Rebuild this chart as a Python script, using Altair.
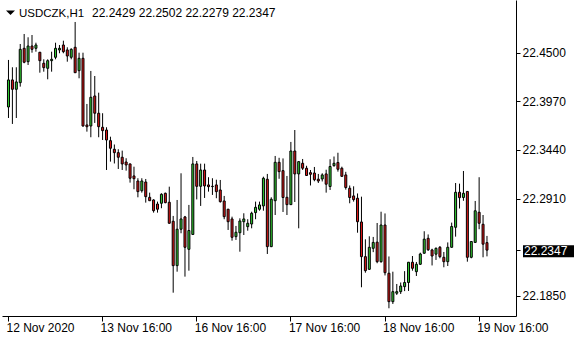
import altair as alt
import pandas as pd

# ---- data (USDCZK, H1) ----
opens = [22.3908, 22.4203, 22.4101, 22.4173, 22.4548, 22.4402, 22.4573, 22.4548, 22.4505, 22.4385,
         22.4330, 22.4413, 22.4450, 22.4530, 22.4584, 22.4530, 22.4450, 22.4559, 22.4304, 22.4439,
         22.3712, 22.3701, 22.4028, 22.3840, 22.3687, 22.3657, 22.3541, 22.3447, 22.3410, 22.3360,
         22.3308, 22.3287, 22.3156, 22.3101, 22.2995, 22.3090, 22.2923, 22.2894, 22.2850, 22.2858,
         22.2967, 22.2869, 22.2662, 22.2178, 22.2575, 22.2709, 22.2356, 22.2518, 22.3287, 22.3043,
         22.3221, 22.3058, 22.3040, 22.3058, 22.3003, 22.2883, 22.2793, 22.2687, 22.2494, 22.2537,
         22.2657, 22.2603, 22.2632, 22.2756, 22.2793, 22.2829, 22.3120, 22.2385, 22.2886, 22.3305,
         22.3214, 22.2923, 22.2843, 22.3428, 22.3178, 22.3294, 22.3240, 22.3192, 22.3188, 22.3121,
         22.3123, 22.3178, 22.3041, 22.3268, 22.3303, 22.3240, 22.3167, 22.3022, 22.2938, 22.2913,
         22.2654, 22.2276, 22.2138, 22.2367, 22.2434, 22.2221, 22.2621, 22.2095, 22.1785, 22.1877,
         22.1894, 22.1949, 22.1994, 22.2215, 22.2112, 22.2193, 22.2313, 22.2476, 22.2349, 22.2303,
         22.2378, 22.2269, 22.2221, 22.2378, 22.2596, 22.2978, 22.2921, 22.2987, 22.2269, 22.2431,
         22.2760, 22.2629, 22.2429]
highs = [22.4421, 22.4341, 22.4341, 22.4595, 22.4704, 22.4668, 22.4693, 22.4609, 22.4508, 22.4428,
         22.4428, 22.4511, 22.4609, 22.4584, 22.4631, 22.4559, 22.4548, 22.4835, 22.4500, 22.4500,
         22.3941, 22.4301, 22.4246, 22.4064, 22.3840, 22.3687, 22.3584, 22.3499, 22.3447, 22.3432,
         22.3349, 22.3290, 22.3257, 22.3131, 22.3131, 22.3123, 22.2974, 22.2902, 22.2876, 22.2967,
         22.2974, 22.3039, 22.2720, 22.2894, 22.3185, 22.2720, 22.2840, 22.3363, 22.3319, 22.3290,
         22.3290, 22.3142, 22.3131, 22.3115, 22.3112, 22.2938, 22.2797, 22.2712, 22.2611, 22.2694,
         22.2749, 22.2684, 22.2766, 22.2876, 22.2876, 22.3148, 22.3178, 22.2923, 22.3374, 22.3354,
         22.3347, 22.3156, 22.3527, 22.3657, 22.3315, 22.3341, 22.3267, 22.3221, 22.3254, 22.3178,
         22.3185, 22.3224, 22.3338, 22.3368, 22.3409, 22.3257, 22.3201, 22.3052, 22.3043, 22.2965,
         22.2930, 22.2465, 22.2498, 22.2491, 22.2643, 22.2766, 22.2747, 22.2278, 22.2112, 22.1978,
         22.1994, 22.2118, 22.2218, 22.2283, 22.2218, 22.2319, 22.2553, 22.2518, 22.2362, 22.2376,
         22.2392, 22.2327, 22.2431, 22.2647, 22.3079, 22.3072, 22.3210, 22.2989, 22.2443, 22.2883,
         22.3142, 22.2730, 22.2502]
lows = [22.3788, 22.3723, 22.3788, 22.4130, 22.4385, 22.4366, 22.4500, 22.4511, 22.4282, 22.4293,
        22.4210, 22.4293, 22.4428, 22.4494, 22.4494, 22.4402, 22.4428, 22.4278, 22.4221, 22.3693,
        22.3639, 22.3578, 22.3734, 22.3578, 22.3548, 22.3221, 22.3312, 22.3292, 22.3232, 22.3221,
        22.3214, 22.3083, 22.3011, 22.2923, 22.2974, 22.2865, 22.2884, 22.2756, 22.2756, 22.2804,
        22.2858, 22.2636, 22.1883, 22.2112, 22.2531, 22.2058, 22.2123, 22.2512, 22.2900, 22.2829,
        22.2916, 22.2985, 22.2949, 22.2913, 22.2865, 22.2684, 22.2567, 22.2450, 22.2458, 22.2330,
        22.2512, 22.2559, 22.2585, 22.2684, 22.2777, 22.2777, 22.2305, 22.2380, 22.2730, 22.3125,
        22.2763, 22.2730, 22.2840, 22.2872, 22.2585, 22.3221, 22.3156, 22.3052, 22.3098, 22.3079,
        22.3096, 22.2974, 22.3003, 22.3257, 22.3203, 22.3145, 22.3007, 22.2858, 22.2876, 22.2537,
        22.1942, 22.2101, 22.2131, 22.2325, 22.2204, 22.2210, 22.2071, 22.1713, 22.1760, 22.1858,
        22.1869, 22.1900, 22.1902, 22.2123, 22.2065, 22.2185, 22.2308, 22.2338, 22.2180, 22.2240,
        22.2258, 22.2160, 22.2174, 22.2374, 22.2494, 22.2801, 22.2885, 22.2221, 22.2258, 22.2428,
        22.2575, 22.2269, 22.2279]
closes = [22.4203, 22.4101, 22.4181, 22.4537, 22.4396, 22.4573, 22.4537, 22.4584, 22.4413, 22.4337,
          22.4413, 22.4428, 22.4548, 22.4548, 22.4511, 22.4464, 22.4537, 22.4282, 22.4439, 22.3701,
          22.3693, 22.4014, 22.3840, 22.3693, 22.3650, 22.3548, 22.3458, 22.3410, 22.3360, 22.3287,
          22.3276, 22.3131, 22.3126, 22.2985, 22.3101, 22.2930, 22.2886, 22.2777, 22.2793, 22.2956,
          22.2865, 22.2640, 22.2178, 22.2575, 22.2687, 22.2378, 22.2561, 22.3287, 22.3043, 22.3221,
          22.3047, 22.3039, 22.3043, 22.2985, 22.2876, 22.2712, 22.2657, 22.2487, 22.2542, 22.2665,
          22.2687, 22.2640, 22.2749, 22.2814, 22.2840, 22.3131, 22.2385, 22.2902, 22.3305, 22.3203,
          22.2921, 22.2843, 22.3428, 22.3178, 22.3312, 22.3240, 22.3161, 22.3174, 22.3115, 22.3101,
          22.3167, 22.3066, 22.3259, 22.3294, 22.3229, 22.3152, 22.3030, 22.2921, 22.2898, 22.2657,
          22.2276, 22.2123, 22.2378, 22.2431, 22.2221, 22.2621, 22.2101, 22.1785, 22.1894, 22.1894,
          22.1956, 22.1994, 22.2215, 22.2149, 22.2193, 22.2305, 22.2467, 22.2351, 22.2283, 22.2367,
          22.2276, 22.2221, 22.2378, 22.2605, 22.2978, 22.2919, 22.2967, 22.2269, 22.2441, 22.2776,
          22.2640, 22.2412, 22.2347]

# time labels sit on bars 0, 24, 48, 72, 96, 120 (shifted 1/8 bar so the tick line is crisp)
x_tick_bars = [0, 24, 48, 72, 96, 120]
x_tick_labels = ["12 Nov 2020", "13 Nov 16:00", "16 Nov 16:00", "17 Nov 16:00",
                 "18 Nov 16:00", "19 Nov 16:00"]
y_ticks = [22.4500, 22.3970, 22.3440, 22.2910, 22.1850]
symbol_text = "USDCZK,H1"
ohlc_text = "22.2429 22.2502 22.2279 22.2347"

GREEN = "#32CD32"
RED = "#E01818"
FONT = "Liberation Sans"

df = pd.DataFrame({"i": list(range(len(opens))), "open": opens, "high": highs,
                   "low": lows, "close": closes})
df["dir"] = ["up" if c >= o else "down" for o, c in zip(opens, closes)]

last_price = closes[-1]
price_df = pd.DataFrame({"price": [last_price], "label": [f"{last_price:.4f}"]})
title_df = pd.DataFrame({"s": [symbol_text], "t": [ohlc_text]})

xscale = alt.Scale(domain=[-0.375, 128.125], nice=False, zero=False)
yscale = alt.Scale(domain=[22.16287, 22.50747], nice=False, zero=False)

x_tick_pos = [b - 0.125 for b in x_tick_bars]
lab_js = "[" + ",".join(f"'{s}'" for s in x_tick_labels) + "]"
pos_js = "[" + ",".join(str(v) for v in x_tick_pos) + "]"
xaxis = alt.Axis(values=x_tick_pos, title=None, grid=False,
                 labelExpr=f"{lab_js}[indexof({pos_js}, datum.value)]",
                 labelAlign="left", labelBaseline="top", tickSize=5, labelPadding=1,
                 labelOffset=-2,
                 labelFlush=False, labelOverlap=False, labelBound=False,
                 labelFont=FONT, labelFontSize=12, labelColor="black",
                 tickColor="black", domainColor="black")
yvals = y_ticks + [last_price]
yaxis = alt.Axis(values=yvals, orient="right", title=None, grid=False,
                 labelExpr=f"datum.value == {last_price} ? '' : format(datum.value, '.4f')",
                 tickSize=4, labelPadding=2, labelOverlap=False, labelBound=False,
                 labelFont=FONT, labelFontSize=12, labelColor="black",
                 tickColor="black", domainColor="black")

base = alt.Chart(df).encode(x=alt.X("i:Q", scale=xscale, axis=xaxis))

wicks = base.mark_rule(color="black", strokeWidth=1).encode(
    y=alt.Y("low:Q", scale=yscale, axis=yaxis), y2="high:Q")

bodies = base.mark_bar(size=2, stroke="black", strokeWidth=1).encode(
    y=alt.Y("open:Q", scale=yscale), y2="close:Q",
    color=alt.Color("dir:N", scale=alt.Scale(domain=["up", "down"], range=[GREEN, RED]),
                    legend=None))

price_box = alt.Chart(price_df).mark_rule(color="black", strokeWidth=12, strokeCap="butt",
                                          yOffset=1).encode(
    x=alt.value(521), x2=alt.value(572), y=alt.Y("price:Q", scale=yscale))
price_text = alt.Chart(price_df).mark_text(align="left", baseline="middle", color="white",
                                           font=FONT, fontSize=12, yOffset=1).encode(
    x=alt.value(522), y=alt.Y("price:Q", scale=yscale), text="label:N")

tri = alt.Chart(title_df).mark_point(
    shape="M-1,-0.5L1,-0.5L0,0.5Z", filled=True, color="black", size=81, opacity=1,
    strokeWidth=0).encode(x=alt.value(8.5), y=alt.value(12.8))
sym = alt.Chart(title_df).mark_text(align="left", baseline="alphabetic", color="black",
                                    font=FONT, fontSize=11.5).encode(
    x=alt.value(17), y=alt.value(17), text="s:N")
vals = alt.Chart(title_df).mark_text(align="left", baseline="alphabetic", color="black",
                                     font=FONT, fontSize=12).encode(
    x=alt.value(90), y=alt.value(17), text="t:N")

chart = alt.layer(wicks, bodies, price_box, price_text, tri, sym, vals).properties(
    width=514, height=316,
    autosize=alt.AutoSizeParams(type="none"),
    padding={"left": 2, "top": 0, "right": 64, "bottom": 24},
    background="white",
).configure_view(stroke=None)

chart.save("out.html", embed_options={"renderer": "svg", "actions": False})
